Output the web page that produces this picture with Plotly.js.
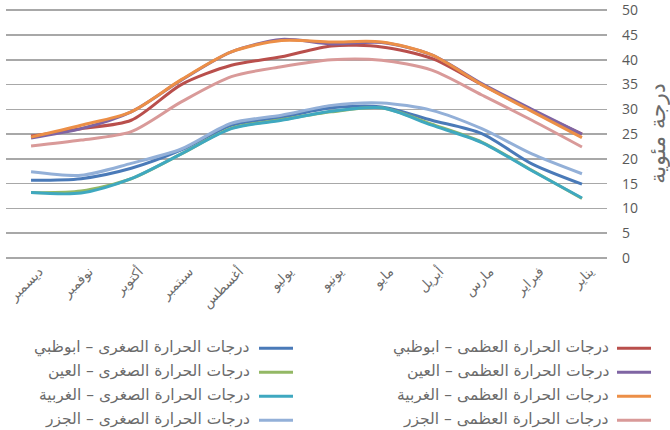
<!DOCTYPE html>
<html>
<head>
<meta charset="utf-8">
<script src="https://cdn.plot.ly/plotly-3.0.1.min.js"></script>
<style>html,body{margin:0;padding:0;background:#fff;}#chart{width:670px;height:430px;}</style>
</head>
<body>
<div id="chart"></div>
<script>
// Months (January → December); axis is drawn right-to-left
var months = ["يناير","فبراير","مارس","أبريل","مايو","يونيو","يوليو","أغسطس","سبتمبر","أكتوبر","نوفمبر","ديسمبر"];

var seriesNames = [
  "درجات الحرارة العظمى – ابوظبي",
  "درجات الحرارة العظمى – العين",
  "درجات الحرارة العظمى – الغربية",
  "درجات الحرارة العظمى – الجزر",
  "درجات الحرارة الصغرى – ابوظبي",
  "درجات الحرارة الصغرى – العين",
  "درجات الحرارة الصغرى – الغربية",
  "درجات الحرارة الصغرى – الجزر"
];

var maxAbuDhabi = [25.0, 29.8, 35.0, 40.3, 42.6, 42.8, 40.6, 38.9, 35.0, 27.8, 26.1, 24.6];
var maxAlAin    = [25.0, 30.0, 35.2, 41.0, 43.5, 43.2, 44.1, 41.6, 35.9, 29.5, 26.1, 24.2];
var maxGharbia  = [24.3, 29.6, 35.0, 41.0, 43.6, 43.6, 43.9, 41.6, 36.0, 29.5, 26.8, 24.4];
var maxIslands  = [22.4, 27.8, 32.9, 37.9, 39.9, 40.0, 38.6, 36.6, 31.5, 25.5, 23.8, 22.6];
var minAbuDhabi = [14.9, 19.0, 25.1, 27.8, 30.5, 30.3, 28.4, 26.8, 21.8, 18.1, 16.0, 15.7];
var minAlAin    = [12.0, 17.7, 23.4, 27.0, 30.3, 29.5, 27.9, 26.2, 21.0, 16.0, 13.5, 13.2];
var minGharbia  = [12.1, 17.6, 23.3, 26.8, 30.3, 29.6, 27.8, 26.1, 21.0, 16.0, 13.1, 13.2];
var minIslands  = [17.0, 21.0, 26.1, 29.8, 31.3, 30.8, 28.8, 27.2, 22.0, 19.1, 16.7, 17.4];
var yTicks = [0, 5, 10, 15, 20, 25, 30, 35, 40, 45, 50];

var seriesValues = [maxAbuDhabi, maxAlAin, maxGharbia, maxIslands, minAbuDhabi, minAlAin, minGharbia, minIslands];
var colors = ["#b94f4c", "#7f65a3", "#ec8f47", "#d99a99", "#4a7ab8", "#93b865", "#3fa8c0", "#93b0d8"];

var traces = seriesValues.map(function (vals, i) {
  return {
    type: "scatter", mode: "lines",
    x: months, y: vals, name: seriesNames[i],
    line: {color: colors[i], width: 3, shape: "spline", smoothing: 0.8},
    showlegend: false, hoverinfo: "skip"
  };
});

// plot area in pixels
var W = 670, H = 430;
var L = 6, R = 607, B = 257.7, T = 8.8;
function px(xp) { return (xp - L) / (R - L); }
function py(yp) { return (B - yp) / (B - T); }

var arabicFont = "DejaVu Sans, Noto Sans, sans-serif";
var annotations = [], shapes = [];
var colText = [611, 252], colLine = [[617, 651], [259, 293]];
var rowY = [347, 371, 395, 419];
for (var i = 0; i < 8; i++) {
  var c = i < 4 ? 0 : 1, r = i % 4;
  annotations.push({
    xref: "paper", yref: "paper", x: px(colText[c]), y: py(rowY[r]),
    xanchor: "right", yanchor: "middle", showarrow: false,
    text: seriesNames[i], font: {family: arabicFont, size: 15.5, color: "#6b6b6b"}
  });
  shapes.push({
    type: "line", xref: "paper", yref: "paper",
    x0: px(colLine[c][0]), x1: px(colLine[c][1]), y0: py(rowY[r] + 1), y1: py(rowY[r] + 1),
    line: {color: colors[i], width: 3}
  });
}

var layout = {
  width: W, height: H,
  margin: {l: L, r: W - R, t: T, b: H - B, pad: 0},
  paper_bgcolor: "#ffffff", plot_bgcolor: "#ffffff",
  showlegend: false,
  xaxis: {
    type: "category", range: [11.5, -0.5], autorange: false,
    tickangle: -45, showgrid: false, zeroline: false, showline: false,
    ticks: "", ticklabelshift: -8, ticklabelstandoff: 2,
    tickfont: {family: arabicFont, size: 13.5, color: "#6b6b6b"}
  },
  yaxis: {
    side: "right", range: [0, 50.25], autorange: false, tickvals: yTicks,
    showgrid: true, gridcolor: "#a8a8a8", gridwidth: 1.6,
    zeroline: true, zerolinecolor: "#a8a8a8", zerolinewidth: 1.6,
    showline: false, ticks: "", ticklabelstandoff: 14, ticklabeloverflow: "allow",
    tickfont: {family: "Open Sans, DejaVu Sans, sans-serif", size: 14, color: "#595959"},
    title: {text: "درجة مئوية", font: {family: arabicFont, size: 22, color: "#6b6b6b"}, standoff: 12}
  },
  annotations: annotations,
  shapes: shapes
};

Plotly.newPlot("chart", traces, layout, {staticPlot: true, displayModeBar: false});
</script>
</body>
</html>
